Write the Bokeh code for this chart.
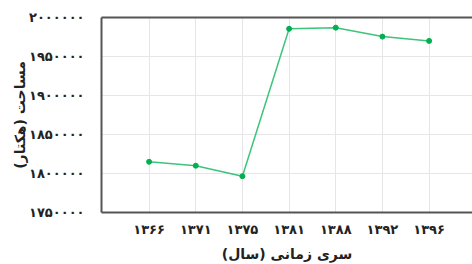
from bokeh.plotting import figure
from bokeh.embed import file_html
from bokeh.resources import INLINE
from bokeh.models import FixedTicker, LinearAxis, Range1d

years = ["۱۳۶۶", "۱۳۷۱", "۱۳۷۵", "۱۳۸۱", "۱۳۸۸", "۱۳۹۲", "۱۳۹۶"]
area = [1815000, 1810000, 1796500, 1985500, 1987000, 1975500, 1970000]
y_ticks = [1750000, 1800000, 1850000, 1900000, 1950000, 2000000]
y_tick_labels = ["۱۷۵۰۰۰۰", "۱۸۰۰۰۰۰", "۱۸۵۰۰۰۰", "۱۹۰۰۰۰۰", "۱۹۵۰۰۰۰", "۲۰۰۰۰۰۰"]
x_title = "سری زمانی (سال)"
y_title = "مساحت (هکتار)"

xs = list(range(1, len(years) + 1))

FONT = "DejaVu Sans"

p = figure(width=472, height=264, output_backend="svg", toolbar_location=None,
           x_range=Range1d(-0.02, 7.93), y_range=Range1d(1750000, 2000000),
           min_border_left=101, min_border_right=0, min_border_top=17, min_border_bottom=52)
p.outline_line_color = None
p.background_fill_color = "white"
p.border_fill_color = "white"

p.line(xs, area, line_color="#3dc47a", line_width=1.5)
p.scatter(xs, area, size=5, fill_color="#00b050", line_color="#00b050")

p.xaxis.ticker = FixedTicker(ticks=xs)
p.xaxis.major_label_overrides = {x: y for x, y in zip(xs, years)}
p.yaxis.ticker = FixedTicker(ticks=y_ticks)
p.yaxis.major_label_overrides = {t: l for t, l in zip(y_ticks, y_tick_labels)}

for ax in (p.xaxis[0], p.yaxis[0]):
    ax.axis_line_color = "#555555"
    ax.axis_line_width = 2
    ax.major_tick_line_color = None
    ax.minor_tick_line_color = None
    ax.major_label_text_font = FONT
    ax.major_label_text_font_style = "bold"
    ax.major_label_text_font_size = "13px"
    ax.major_label_text_color = "#222222"
    ax.axis_label_text_font = FONT
    ax.axis_label_text_font_style = "bold"
    ax.axis_label_text_font_size = "14px"
    ax.axis_label_text_color = "#222222"

p.xaxis.axis_label = x_title
p.yaxis.axis_label = y_title
p.xaxis.major_label_standoff = 3
p.xaxis.axis_label_standoff = 6
p.yaxis.major_label_standoff = 11
p.yaxis.axis_label_standoff = -2

top = LinearAxis(ticker=FixedTicker(ticks=[]), axis_line_color="#555555", axis_line_width=2,
                 major_tick_line_color=None, minor_tick_line_color=None,
                 major_label_text_font_size="0px", major_label_standoff=0)
p.add_layout(top, "above")

p.xgrid.grid_line_color = "#e6e6e6"
p.ygrid.grid_line_color = "#e6e6e6"
p.xgrid.ticker = FixedTicker(ticks=xs)
p.ygrid.ticker = FixedTicker(ticks=y_ticks)

open("out.html", "w").write(file_html(p, INLINE))
